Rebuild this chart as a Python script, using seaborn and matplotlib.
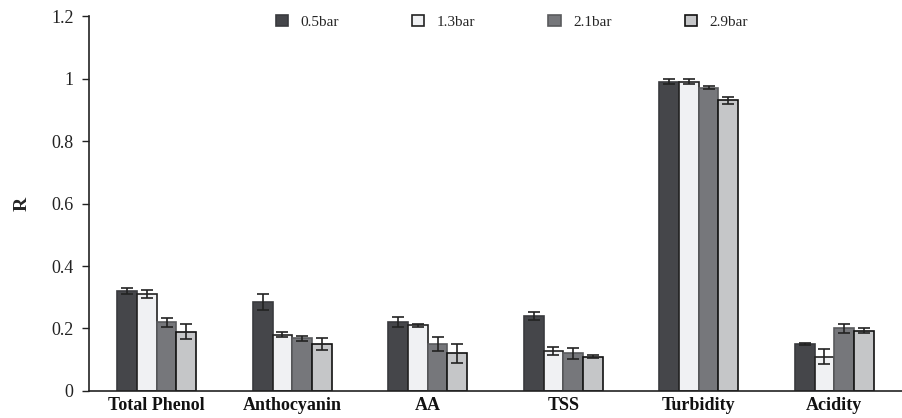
import matplotlib
matplotlib.use("Agg")
import matplotlib.pyplot as plt
import seaborn as sns
import pandas as pd
import numpy as np

categories = ["Total Phenol", "Anthocyanin", "AA", "TSS", "Turbidity", "Acidity"]
series = ["0.5bar", "1.3bar", "2.1bar", "2.9bar"]
values = {
    "0.5bar": [0.32, 0.285, 0.22, 0.24, 0.99, 0.15],
    "1.3bar": [0.31, 0.18, 0.21, 0.128, 0.99, 0.11],
    "2.1bar": [0.22, 0.168, 0.15, 0.12, 0.97, 0.20],
    "2.9bar": [0.19, 0.15, 0.12, 0.11, 0.93, 0.192],
}
errors = {
    "0.5bar": [0.010, 0.025, 0.016, 0.012, 0.007, 0.002],
    "1.3bar": [0.012, 0.008, 0.005, 0.012, 0.007, 0.025],
    "2.1bar": [0.015, 0.007, 0.022, 0.018, 0.005, 0.015],
    "2.9bar": [0.025, 0.020, 0.030, 0.006, 0.012, 0.008],
}
colors = ["#45464a", "#f0f1f3", "#76777b", "#c5c6c8"]
edges = ["#3a3b3e", "#222222", "#5a5b5e", "#111111"]

rows = []
for s in series:
    for c, v in zip(categories, values[s]):
        rows.append({"cat": c, "series": s, "R": v})
df = pd.DataFrame(rows)

sns.set_style("white")
plt.rcParams["font.family"] = ["Liberation Serif", "DejaVu Serif"]

fig = plt.figure(figsize=(9.02, 4.18), dpi=100)
ax = fig.add_axes([0.0987, 0.0646, 0.9013, 0.8971])

sns.barplot(data=df, x="cat", y="R", hue="series", hue_order=series,
            order=categories, palette=colors, width=0.58, ax=ax,
            errorbar=None, saturation=1, linewidth=1.2)

for i, (cont, s) in enumerate(zip(ax.containers, series)):
    xs = []
    for p in cont.patches:
        p.set_edgecolor(edges[i])
        p.set_linewidth(1.2)
        xs.append(p.get_x() + p.get_width() / 2)
    ax.errorbar(xs, values[s], yerr=errors[s], fmt="none", ecolor="#222222",
                elinewidth=1.2, capsize=4, capthick=1.2, zorder=5)

ax.set_ylim(0, 1.2)
ax.set_xlim(-0.5, 5.5)
ax.set_yticks([0, 0.2, 0.4, 0.6, 0.8, 1.0, 1.2])
ax.set_yticklabels(["0", "0.2", "0.4", "0.6", "0.8", "1", "1.2"], fontsize=13)
ax.set_xticks(range(len(categories)))
ax.set_xticklabels(categories, fontsize=13, fontweight="bold")
ax.tick_params(axis="y", direction="out", length=5, width=1, left=True, pad=6, colors="#222222")
ax.tick_params(axis="x", length=0, pad=4, colors="#111111")
ax.set_xlabel("")
ax.set_ylabel("R", fontsize=14, fontweight="bold", labelpad=15)
for sp in ["top", "right"]:
    ax.spines[sp].set_visible(False)
for sp in ["left", "bottom"]:
    ax.spines[sp].set_color("#222222")
    ax.spines[sp].set_linewidth(1.2)

leg = ax.legend(loc="upper center", bbox_to_anchor=(0.52, 1.04), ncol=4, frameon=False,
                fontsize=11, handlelength=0.8, handleheight=0.8, columnspacing=4.8,
                handletextpad=0.8)
for h, e in zip(leg.legend_handles, edges):
    h.set_edgecolor(e)

fig.savefig("out.png", dpi=100)
